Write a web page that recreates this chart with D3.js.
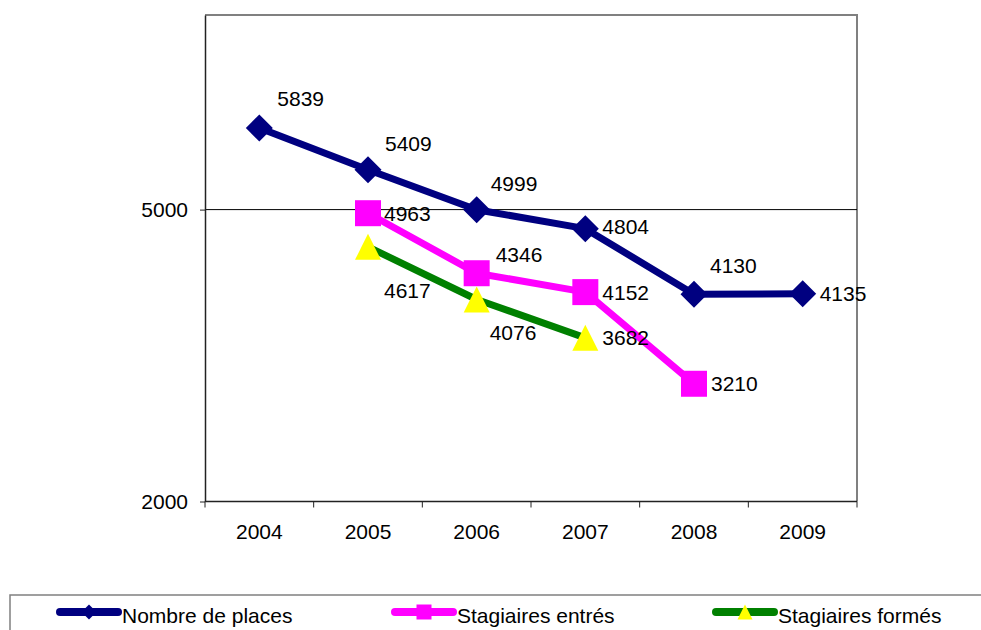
<!DOCTYPE html>
<html>
<head>
<meta charset="utf-8">
<script src="https://cdn.jsdelivr.net/npm/d3@7"></script>
<style>
  html, body { margin: 0; padding: 0; background: #fff; }
  svg { display: block; font-family: "Liberation Sans", Arial, sans-serif; }
</style>
</head>
<body>
<svg id="chart" width="981" height="630"></svg>
<script>
// Years on the horizontal axis
const years = ["2004", "2005", "2006", "2007", "2008", "2009"];

// Series values (null = no value for that year)
const nombrePlaces = [5839, 5409, 4999, 4804, 4130, 4135];
const stagiairesEntres = [null, 4963, 4346, 4152, 3210, null];
const stagiairesFormes = [null, 4617, 4076, 3682, null, null];

// Labelled value-axis ticks
const yTicks = [2000, 5000];

const seriesNames = ["Nombre de places", "Stagiaires entrés", "Stagiaires formés"];

const series = [
  { name: seriesNames[0], values: nombrePlaces, color: "#000080", marker: "diamond" },
  { name: seriesNames[1], values: stagiairesEntres, color: "#FF00FF", marker: "square" },
  { name: seriesNames[2], values: stagiairesFormes, color: "#008000", marker: "triangle", markerFill: "#FFFF00" }
];

// Label nudges (dx to the text's left edge, dy to its middle) per series / point
const labelNudge = [
  [[18, -29], [17, -26], [14, -26], [17, -2], [16, -29], [17, 0]],
  [null, [16, 0], [19, -19], [17, 0], [17, 0], null],
  [null, [16, 44], [13, 33], [17, 0], null, null]
];

const FONT = "Liberation Sans, Arial, sans-serif";
const FS = 21;

const svg = d3.select("#chart");
const plot = { left: 205, top: 15, right: 857, bottom: 501.5 };

const x = d3.scaleBand().domain(years).range([plot.left, plot.right]);
const y = d3.scaleLinear().domain([2000, 7000]).range([plot.bottom, plot.top]);
const cx = d => x(d) + x.bandwidth() / 2;

// Plot frame (top and right)
svg.append("path")
  .attr("d", `M${plot.left},${plot.top}H${plot.right}V${plot.bottom}`)
  .attr("fill", "none").attr("stroke", "#808080").attr("stroke-width", 2);

// Grid line at the labelled interior tick
svg.append("g").selectAll("line")
  .data(yTicks.filter(t => t > y.domain()[0]))
  .join("line")
  .attr("x1", plot.left).attr("x2", plot.right)
  .attr("y1", d => y(d)).attr("y2", d => y(d))
  .attr("stroke", "#000").attr("stroke-width", 1);

// Value axis
const yAxis = svg.append("g")
  .attr("transform", `translate(${plot.left},0)`)
  .call(d3.axisLeft(y).tickValues(yTicks).tickSize(5).tickSizeOuter(0)
    .tickPadding(12).tickFormat(d3.format("d")));
yAxis.attr("font-family", FONT);
yAxis.select(".domain").attr("stroke", "#222").attr("stroke-width", 1.5);
yAxis.selectAll(".tick line").attr("stroke", "#222");
yAxis.selectAll("text").attr("font-size", FS).attr("fill", "#000");

// Category axis with ticks between categories
const xAxis = svg.append("g")
  .attr("transform", `translate(0,${plot.bottom})`);
xAxis.append("line")
  .attr("x1", plot.left).attr("x2", plot.right)
  .attr("stroke", "#222").attr("stroke-width", 1.5);
const bounds = years.map(d => x(d)).concat([plot.right]);
xAxis.selectAll("line.tk").data(bounds).join("line").attr("class", "tk")
  .attr("x1", d => d).attr("x2", d => d).attr("y1", 0).attr("y2", 6)
  .attr("stroke", "#222").attr("stroke-width", 1);
xAxis.selectAll("text").data(years).join("text")
  .attr("x", d => cx(d)).attr("y", 30)
  .attr("text-anchor", "middle").attr("dominant-baseline", "central")
  .attr("font-size", FS).attr("fill", "#000")
  .text(d => d);

function markerPath(type, s) {
  const h = s / 2;
  if (type === "diamond") return `M0,${-h}L${h},0L0,${h}L${-h},0Z`;
  if (type === "square") return `M${-h},${-h}H${h}V${h}H${-h}Z`;
  return `M0,${-h}L${h},${h}H${-h}Z`;
}

const line = d3.line()
  .defined(d => d.v != null)
  .x(d => cx(d.year)).y(d => y(d.v));

series.forEach((s, si) => {
  const pts = years.map((yr, i) => ({ year: yr, v: s.values[i], i }));
  const g = svg.append("g");
  g.append("path").datum(pts)
    .attr("d", line).attr("fill", "none")
    .attr("stroke", s.color).attr("stroke-width", 7)
    .attr("stroke-linejoin", "round");
  const valid = pts.filter(d => d.v != null);
  g.selectAll("path.m").data(valid).join("path").attr("class", "m")
    .attr("transform", d => `translate(${cx(d.year)},${y(d.v)})`)
    .attr("d", markerPath(s.marker, s.marker === "diamond" ? 27 : 26))
    .attr("fill", s.markerFill || s.color);
  g.selectAll("text").data(valid).join("text")
    .attr("x", d => cx(d.year) + labelNudge[si][d.i][0])
    .attr("y", d => y(d.v) + labelNudge[si][d.i][1])
    .attr("dominant-baseline", "central")
    .attr("font-size", FS).attr("fill", "#000")
    .text(d => d.v);
});

// Legend
const legend = svg.append("g");
legend.append("rect")
  .attr("x", 10).attr("y", 595).attr("width", 990).attr("height", 60)
  .attr("fill", "#fff").attr("stroke", "#808080").attr("stroke-width", 1.5);
const legendX = [60, 395, 716];
const legendY = 612;
series.forEach((s, si) => {
  const g = legend.append("g").attr("transform", `translate(${legendX[si]},${legendY})`);
  g.append("line").attr("x1", 0).attr("x2", 58)
    .attr("stroke", s.color).attr("stroke-width", 8).attr("stroke-linecap", "round");
  g.append("path").attr("transform", "translate(29,0)")
    .attr("d", markerPath(s.marker, 15))
    .attr("fill", s.markerFill || s.color);
  g.append("text").attr("x", 62).attr("y", 3)
    .attr("dominant-baseline", "central")
    .attr("font-size", FS).attr("fill", "#000").text(s.name);
});
</script>
</body>
</html>
